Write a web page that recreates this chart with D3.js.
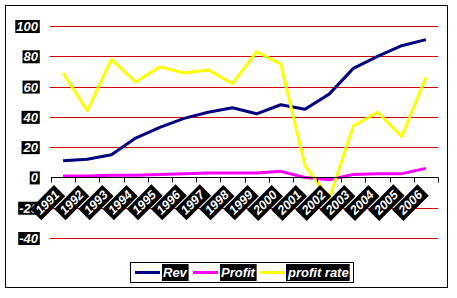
<!DOCTYPE html>
<html>
<head>
<meta charset="utf-8">
<script src="https://cdn.jsdelivr.net/npm/d3@7"></script>
<style>
body { margin: 0; background: #fff; }
text { font-family: "Liberation Sans", Arial, sans-serif; font-weight: bold; font-style: italic; }
</style>
</head>
<body>
<div class="chart"></div>
<script>
var years = ['1991','1992','1993','1994','1995','1996','1997','1998','1999','2000','2001','2002','2003','2004','2005','2006']
var rev = [11, 12, 15, 26, 33, 39, 43, 46, 42, 48, 45, 55, 72, 80, 87, 91]
var profit = [1, 1, 1.5, 1.5, 2, 2.5, 3, 3, 3, 4, 0, -1.5, 2, 2.5, 2.5, 6]
var profitRate = [69, 44, 78, 63, 73, 69, 71, 62, 83, 75, 8, -14, 34, 43, 27, 66]
var yTicks = [100, 80, 60, 40, 20, 0, -20, -40]

var series = [
    {name: 'Rev', values: rev, color: '#000080'},
    {name: 'Profit', values: profit, color: '#ff00ff'},
    {name: 'profit rate', values: profitRate, color: '#ffff00'}
]

var W = 457, H = 298
var svg = d3.select('.chart').append('svg')
    .attr('width', W)
    .attr('height', H)

// outer frame
svg.append('rect')
    .attr('x', 5.5).attr('y', 5.5)
    .attr('width', 442).attr('height', 282)
    .attr('fill', 'none').attr('stroke', '#000')

var xScale = d3.scaleBand().domain(years).range([51, 438])
var yScale = d3.scaleLinear().domain([-40, 100]).range([238, 26])

// gridlines
svg.append('g').selectAll('line')
    .data(yTicks.filter(function (d) { return d !== 0 }))
    .enter().append('line')
    .attr('x1', 50).attr('x2', 438)
    .attr('y1', function (d) { return Math.round(yScale(d)) + 0.5 })
    .attr('y2', function (d) { return Math.round(yScale(d)) + 0.5 })
    .attr('stroke', '#cc0000')

// y labels, white on black
var yl = svg.append('g').selectAll('g')
    .data(yTicks).enter().append('g')
yl.each(function (d) {
    var g = d3.select(this)
    var t = g.append('text')
        .attr('x', 38).attr('y', yScale(d) + 5)
        .attr('text-anchor', 'end')
        .attr('font-size', 13)
        .attr('fill', '#fff')
        .text(d)
    var b = t.node().getBBox()
    g.insert('rect', 'text')
        .attr('x', b.x - 1).attr('y', b.y + 1)
        .attr('width', b.width + 2).attr('height', b.height - 2)
        .attr('fill', '#000')
})

// lines
var line = d3.line()
    .x(function (d, i) { return xScale(years[i]) + xScale.bandwidth() / 2 })
    .y(function (d) { return yScale(d) })

svg.append('g').selectAll('path')
    .data(series).enter().append('path')
    .attr('d', function (d) { return line(d.values) })
    .attr('fill', 'none')
    .attr('stroke', function (d) { return d.color })
    .attr('stroke-width', 3)
    .attr('stroke-linejoin', 'round')

// x axis at zero
var y0 = Math.round(yScale(0)) + 0.5
svg.append('line')
    .attr('x1', 51).attr('x2', 438)
    .attr('y1', y0).attr('y2', y0)
    .attr('stroke', '#000')
svg.append('g').selectAll('line')
    .data(years.concat(['end'])).enter().append('line')
    .attr('x1', function (d, i) { return Math.round(51 + i * xScale.step()) + 0.5 })
    .attr('x2', function (d, i) { return Math.round(51 + i * xScale.step()) + 0.5 })
    .attr('y1', y0).attr('y2', y0 + 5)
    .attr('stroke', '#000')

// x labels rotated
var xl = svg.append('g').selectAll('g')
    .data(years).enter().append('g')
    .attr('transform', function (d) {
        return 'translate(' + (xScale(d) + xScale.bandwidth() / 2 - 6) + ',' + (y0 + 15) + ') rotate(-45)'
    })
xl.each(function (d) {
    var g = d3.select(this)
    var t = g.append('text')
        .attr('x', 0).attr('y', 4.5)
        .attr('text-anchor', 'end')
        .attr('font-size', 12.5)
        .attr('fill', '#fff')
        .text(d)
    var b = t.node().getBBox()
    g.insert('rect', 'text')
        .attr('x', b.x - 3).attr('y', b.y - 1)
        .attr('width', b.width + 6).attr('height', b.height + 2)
        .attr('fill', '#000')
})

// legend
var lg = svg.append('g')
lg.append('rect')
    .attr('x', 130.5).attr('y', 262.5)
    .attr('width', 223).attr('height', 20)
    .attr('fill', '#fff').attr('stroke', '#000')
var lx = [135, 193, 260]
series.forEach(function (s, i) {
    lg.append('line')
        .attr('x1', lx[i]).attr('x2', lx[i] + 25)
        .attr('y1', 272.5).attr('y2', 272.5)
        .attr('stroke', s.color).attr('stroke-width', 3)
    var t = lg.append('text')
        .attr('x', lx[i] + 28).attr('y', 277)
        .attr('font-size', 13)
        .attr('fill', '#fff')
        .text(s.name)
    var b = t.node().getBBox()
    lg.insert('rect', function () { return t.node() })
        .attr('x', b.x - 1).attr('y', 264)
        .attr('width', b.width + 2).attr('height', 17)
        .attr('fill', '#000')
})
</script>
</body>
</html>
